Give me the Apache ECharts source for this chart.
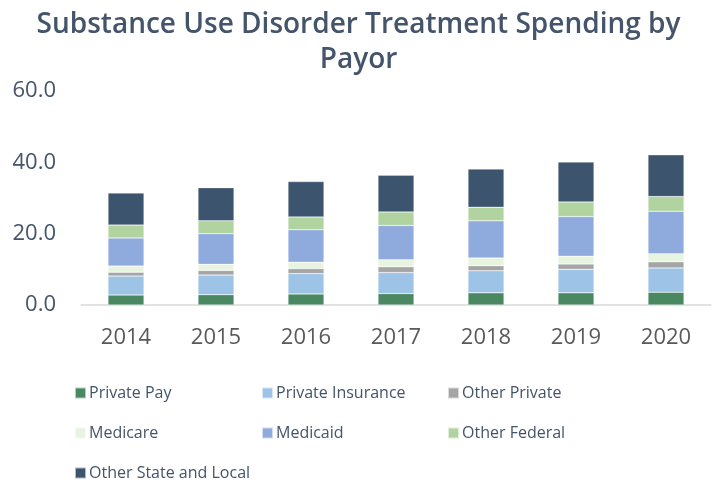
<!DOCTYPE html>
<html>
<head>
<meta charset="utf-8">
<script src="https://cdn.jsdelivr.net/npm/echarts@6/dist/echarts.min.js"></script>
<style>
  html, body { margin: 0; padding: 0; background: #fff; }
  #main { width: 717px; height: 485px; }
</style>
</head>
<body>
<div id="main"></div>
<script>
const years = ['2014', '2015', '2016', '2017', '2018', '2019', '2020'];
const yTicks = [0, 20, 40, 60];

const privatePay = [2.8, 2.9, 3.1, 3.2, 3.4, 3.4, 3.6];
const privateInsurance = [5.3, 5.5, 5.7, 5.9, 6.2, 6.6, 6.8];
const otherPrivate = [1.1, 1.3, 1.4, 1.6, 1.4, 1.5, 1.7];
const medicare = [1.7, 1.7, 1.8, 2.0, 2.2, 2.2, 2.3];
const medicaid = [7.9, 8.6, 9.1, 9.6, 10.4, 11.1, 11.9];
const otherFederal = [3.6, 3.6, 3.6, 3.8, 3.8, 4.1, 4.1];
const otherStateLocal = [9.0, 9.3, 9.9, 10.3, 10.7, 11.2, 11.7];

const seriesDefs = [
  { name: 'Private Pay', data: privatePay, color: '#4A8862' },
  { name: 'Private Insurance', data: privateInsurance, color: '#9DC3E6' },
  { name: 'Other Private', data: otherPrivate, color: '#A5A5A5' },
  { name: 'Medicare', data: medicare, color: '#E7F4DF' },
  { name: 'Medicaid', data: medicaid, color: '#8FAADC' },
  { name: 'Other Federal', data: otherFederal, color: '#B1D3A0' },
  { name: 'Other State and Local', data: otherStateLocal, color: '#3D546F' }
];

const textColor = '#44546A';
const font = '"Open Sans", "Noto Sans", sans-serif';

// one vertical legend per column so the three columns line up
function legendCol(left, names) {
  return {
    orient: 'vertical',
    left: left,
    top: 383,
    padding: 0,
    itemWidth: 11,
    itemHeight: 11,
    itemGap: 20,
    icon: 'rect',
    data: names,
    textStyle: { color: textColor, fontSize: 16, lineHeight: 20, fontFamily: font, padding: [0, 0, 0, -2] }
  };
}

const chart = echarts.init(document.getElementById('main'));
chart.setOption({
  animation: false,
  color: seriesDefs.map(s => s.color),
  title: {
    text: 'Substance Use Disorder Treatment Spending by\nPayor',
    left: 'center',
    top: 3,
    textStyle: { color: textColor, fontSize: 28, fontWeight: 600, fontFamily: font, lineHeight: 35 }
  },
  legend: [
    legendCol(74, ['Private Pay', 'Medicare', 'Other State and Local']),
    legendCol(261, ['Private Insurance', 'Medicaid']),
    legendCol(447, ['Other Private', 'Other Federal'])
  ],
  grid: { left: 81, right: 6, top: 91, bottom: 180, containLabel: false },
  xAxis: {
    type: 'category',
    data: years,
    axisLine: { lineStyle: { color: '#D9D9D9', width: 1.5 } },
    axisTick: { show: false },
    axisLabel: { color: '#595959', fontSize: 22, fontFamily: font, margin: 22 }
  },
  yAxis: {
    type: 'value',
    min: yTicks[0],
    max: yTicks[yTicks.length - 1],
    interval: 20,
    splitLine: { show: false },
    axisLine: { show: false },
    axisTick: { show: false },
    axisLabel: {
      color: textColor, fontSize: 22, fontFamily: font, margin: 25,
      formatter: v => v.toFixed(1)
    }
  },
  series: seriesDefs.map(s => ({
    name: s.name,
    type: 'bar',
    stack: 'total',
    barWidth: '40%',
    data: s.data,
    itemStyle: { color: s.color, borderColor: 'rgba(255,255,255,0.6)', borderWidth: 0.5 }
  }))
});
</script>
</body>
</html>
